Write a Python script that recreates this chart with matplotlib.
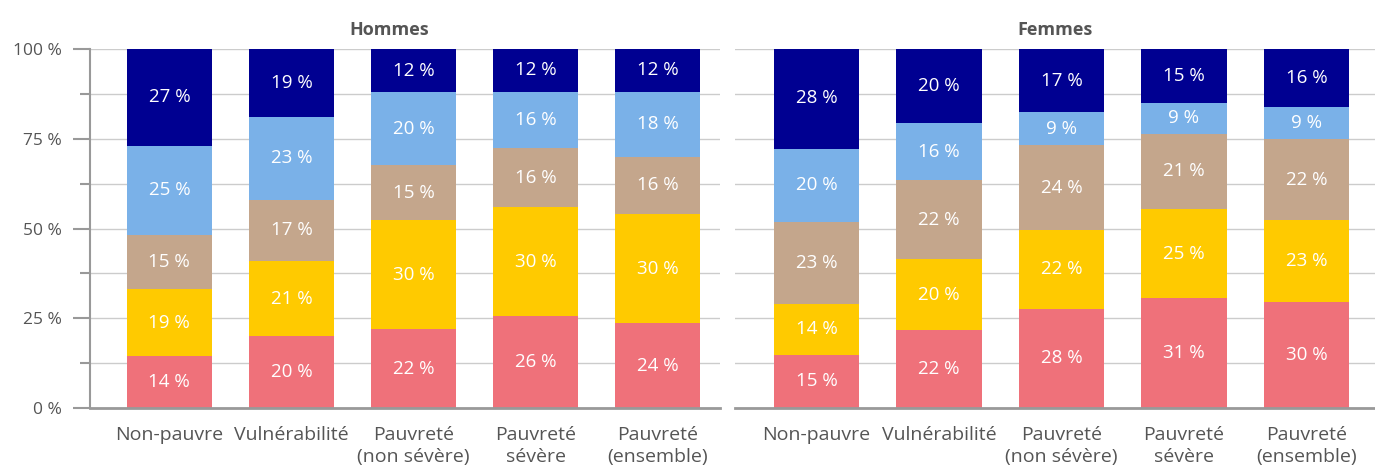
import matplotlib
matplotlib.use("Agg")
import matplotlib.pyplot as plt
import numpy as np
from matplotlib.ticker import MultipleLocator

plt.rcParams['font.family'] = ['Open Sans', 'DejaVu Sans']

categories = ["Non-pauvre", "Vulnérabilité", "Pauvreté\n(non sévère)", "Pauvreté\nsévère", "Pauvreté\n(ensemble)"]
series_names = ["s1", "s2", "s3", "s4", "s5"]
colors = ["#EF717A", "#FFCA00", "#C4A68C", "#7AB1E8", "#000091"]

# stacked bottom -> top, per category
hommes = {
    "s1": [14.4, 20.0, 21.9, 25.6, 23.6],
    "s2": [18.8, 21.0, 30.4, 30.4, 30.4],
    "s3": [15.0, 17.0, 15.4, 16.4, 16.0],
    "s4": [24.8, 23.0, 20.3, 15.7, 18.1],
    "s5": [27.0, 19.0, 12.0, 11.9, 11.9],
}
femmes = {
    "s1": [14.8, 21.6, 27.6, 30.6, 29.5],
    "s2": [14.2, 19.8, 22.0, 24.8, 22.9],
    "s3": [22.8, 22.1, 23.6, 21.0, 22.4],
    "s4": [20.4, 15.8, 9.2, 8.6, 9.1],
    "s5": [28.2, 20.7, 17.6, 15.0, 16.3],
}
hommes_labels = {
    "s1": [14, 20, 22, 26, 24],
    "s2": [19, 21, 30, 30, 30],
    "s3": [15, 17, 15, 16, 16],
    "s4": [25, 23, 20, 16, 18],
    "s5": [27, 19, 12, 12, 12],
}
femmes_labels = {
    "s1": [15, 22, 28, 31, 30],
    "s2": [14, 20, 22, 25, 23],
    "s3": [23, 22, 24, 21, 22],
    "s4": [20, 16, 9, 9, 9],
    "s5": [28, 20, 17, 15, 16],
}
yticks = [0, 25, 50, 75, 100]
ytick_labels = ["0 %", "25 %", "50 %", "75 %", "100 %"]

W, H = 1375, 466
fig = plt.figure(figsize=(W / 100, H / 100), dpi=100)

def axrect(x0, x1, ytop, ybot):
    return [x0 / W, 1 - ybot / H, (x1 - x0) / W, (ybot - ytop) / H]

ax1 = fig.add_axes(axrect(90, 720, 49, 408))
ax2 = fig.add_axes(axrect(735, 1375, 49, 408))

textgrey = "#555555"

def draw(ax, data, labels, title, xlim, show_y, title_x):
    x = np.arange(len(categories))
    bottom = np.zeros(len(categories))
    for name, col in zip(series_names, colors):
        vals = np.array(data[name])
        ax.bar(x, vals, 0.70, bottom=bottom, color=col, zorder=3)
        for xi, b, v, lab in zip(x, bottom, vals, labels[name]):
            ax.text(xi, b + v / 2, f"{lab} %", ha="center", va="center",
                    color="white", fontsize=13.5, zorder=4)
        bottom += vals
    ax.set_xlim(*xlim)
    ax.set_ylim(0, 100)
    ax.yaxis.set_major_locator(MultipleLocator(25))
    ax.yaxis.set_minor_locator(MultipleLocator(12.5))
    ax.grid(axis="y", which="both", color="#CCCCCC", linewidth=1.0, zorder=0)
    ax.axhline(0, color="#999999", linewidth=2.0, zorder=5, clip_on=False)
    for s in ["top", "right", "bottom"]:
        ax.spines[s].set_visible(False)
    ax.set_xticks(x)
    ax.set_xticklabels(categories, fontsize=14, color=textgrey, linespacing=1.3)
    ax.tick_params(axis="x", length=0, pad=13)
    if show_y:
        ax.spines["left"].set_color("#999999")
        ax.spines["left"].set_linewidth(1.5)
        ax.set_yticks(yticks)
        ax.set_yticklabels(ytick_labels, fontsize=12.5, color=textgrey)
        ax.tick_params(axis="y", which="major", length=12, width=1.5, color="#999999", pad=8)
        ax.tick_params(axis="y", which="minor", length=7, width=1.5, color="#999999")
    else:
        ax.spines["left"].set_visible(False)
        ax.tick_params(axis="y", which="both", length=0, labelleft=False)
    ax.text(title_x, 1.028, title, transform=ax.get_xaxis_transform(), ha="center", va="bottom",
            fontsize=13, fontweight="bold", color=textgrey)

draw(ax1, hommes, hommes_labels, "Hommes", (-0.65, 4.51), True, 1.8)
draw(ax2, femmes, femmes_labels, "Femmes", (-0.665, 4.56), False, 1.95)

fig.savefig("out.png", dpi=100)
